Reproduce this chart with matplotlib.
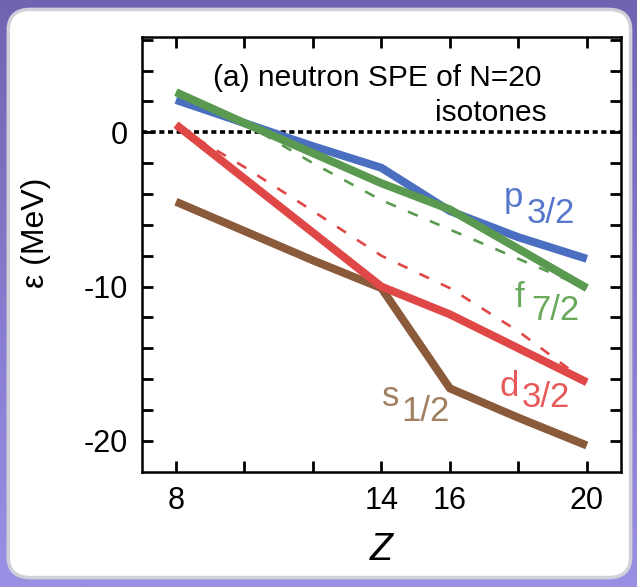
import numpy as np
import matplotlib
matplotlib.use("Agg")
import matplotlib.pyplot as plt
from matplotlib.patches import FancyBboxPatch

plt.rcParams['font.family'] = ['Liberation Sans', 'DejaVu Sans']

# neutron single-particle energies (MeV) of N=20 isotones
Z = [8, 10, 12, 14, 16, 18, 20]
p32 = [2.1, 0.6, -0.9, -2.3, -5.1, -6.8, -8.2]
f72 = [2.6, 0.6, -1.35, -3.3, -5.0, -7.55, -10.1]
d32 = [0.5, -3.0, -6.5, -10.0, -11.8, -14.0, -16.2]
s12 = [-4.5, -6.4, -8.3, -10.1, -16.6, -18.5, -20.3]
f72_dash = [2.6, 0.6, -2.0, -4.4, -6.3, -8.2, -10.1]
d32_dash = [0.4, -2.25, -5.1, -8.0, -10.1, -12.9, -16.2]

xticks = [8, 10, 12, 14, 16, 18, 20]
xticklabels = ['8', '', '', '14', '16', '', '20']
yticks = list(range(-20, 7, 2))
ylabeled = {0: '0', -10: '-10', -20: '-20'}

c_blue, c_green, c_red, c_brown = '#4a6fc0', '#5a9a50', '#e04848', '#8a5a3a'

fig = plt.figure(figsize=(6.37, 5.87), dpi=100)

# purple gradient background + rounded white panel
bg = fig.add_axes([0, 0, 1, 1], zorder=-10)
grad = np.linspace(0, 1, 256).reshape(-1, 1)
bg.imshow(grad, aspect='auto', extent=[0, 1, 0, 1],
          cmap=matplotlib.colors.LinearSegmentedColormap.from_list(
              'bgp', ['#9a90e4', '#7064b2']), origin='lower')
bg.add_patch(FancyBboxPatch((0.013, 0.016), 0.977, 0.968,
                            boxstyle='round,pad=0,rounding_size=0.035',
                            transform=bg.transAxes, facecolor='white',
                            edgecolor='#d0d0d8', linewidth=2.5))
bg.set_xlim(0, 1)
bg.set_ylim(0, 1)
bg.axis('off')

ax = fig.add_axes([0.2225, 0.1964, 0.7525, 0.7411])
ax.set_facecolor('none')

ax.axhline(0, color='black', lw=2.6, ls=(0, (1.4, 1.0)), zorder=1)
ax.plot(Z, f72_dash, color=c_green, lw=1.9, ls=(0, (4, 5)), zorder=2)
ax.plot(Z, d32_dash, color=c_red, lw=1.9, ls=(0, (4, 5)), zorder=2)
ax.plot(Z, s12, color=c_brown, lw=5.8, zorder=3, solid_capstyle='butt')
ax.plot(Z, d32, color=c_red, lw=5.8, zorder=4, solid_capstyle='butt')
ax.plot(Z, p32, color=c_blue, lw=5.8, zorder=5, solid_capstyle='butt')
ax.plot(Z, f72, color=c_green, lw=5.8, zorder=6, solid_capstyle='butt')

ax.set_xlim(7, 21)
ax.set_ylim(-22, 6.2)
ax.set_xticks(xticks)
ax.set_xticklabels(xticklabels)
ax.set_yticks(yticks)
ax.set_yticklabels([ylabeled.get(v, '') for v in yticks])
ax.tick_params(direction='in', length=8, width=2, top=True, right=True,
               labelsize=22, pad=10)
for s in ax.spines.values():
    s.set_linewidth(1.8)

ax.set_xlabel('Z', fontsize=27, style='italic', labelpad=12)
ax.set_ylabel('ε (MeV)', fontsize=23)
ax.yaxis.set_label_coords(-0.19, 0.55)

ax.text(13.87, 3.52, '(a) neutron SPE of N=20', fontsize=21.5,
        ha='center', va='center')
ax.text(18.84, 1.26, 'isotones', fontsize=21.5, ha='right', va='center')

labels = [
    ('p', '3/2', 17.58, -4.84, 18.25, -5.87, '#5577cc'),
    ('f', '7/2', 17.90, -11.3, 18.37, -12.14, '#6aa85c'),
    ('d', '3/2', 17.44, -17.1, 18.10, -17.82, '#e85a5a'),
    ('s', '1/2', 14.02, -17.75, 14.57, -18.72, '#a08060'),
]
for main, sub, x1, y1, x2, y2, col in labels:
    ax.text(x1, y1, main, color=col, fontsize=25, va='baseline')
    ax.text(x2, y2, sub, color=col, fontsize=25, va='baseline')

plt.savefig('out.png', dpi=100)
